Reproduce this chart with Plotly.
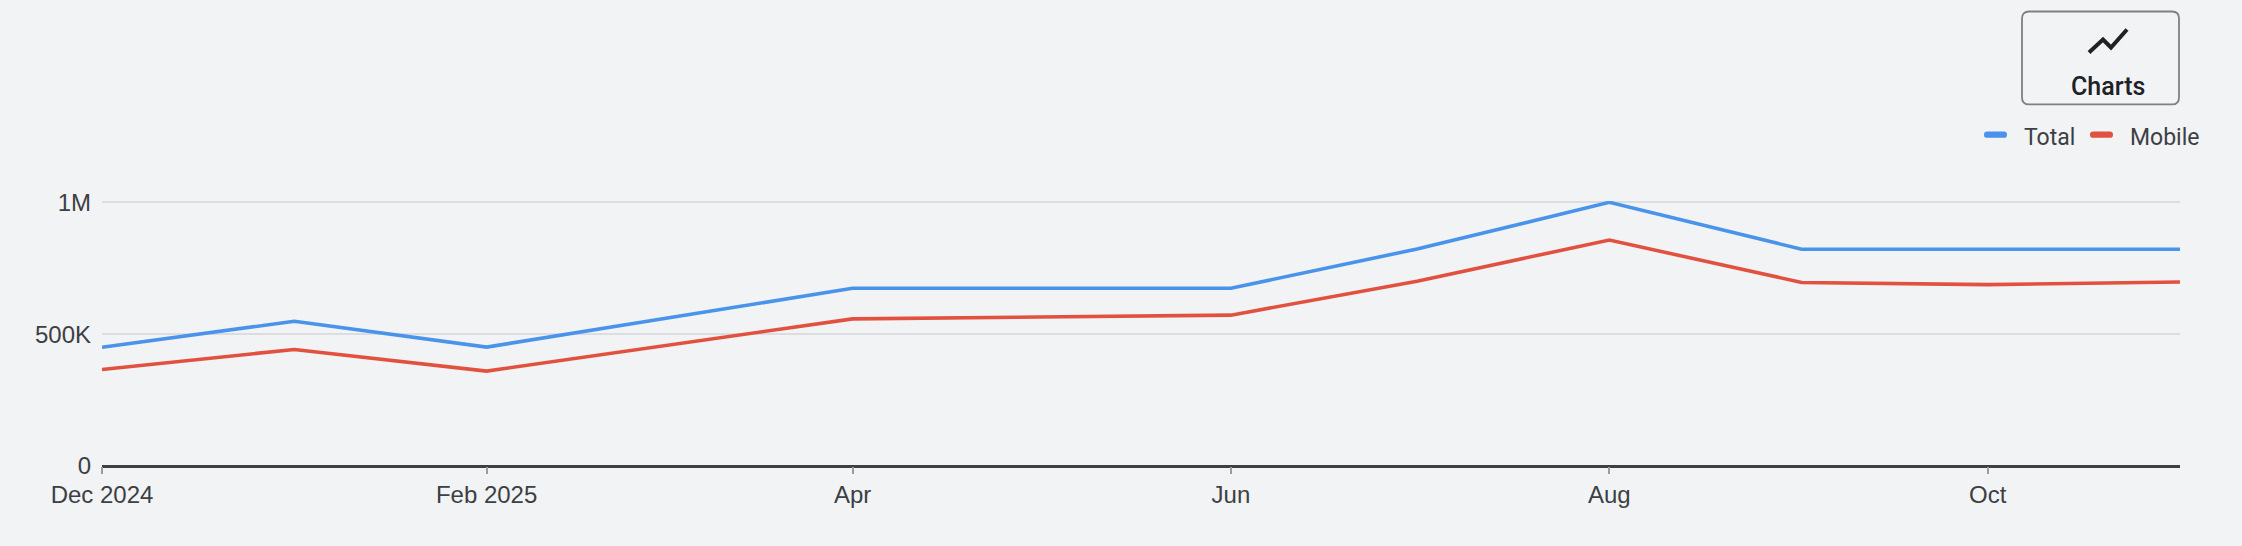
import plotly.graph_objects as go

# === Data (monthly) ===
months = ["2024-12-01", "2025-01-01", "2025-02-01", "2025-03-01", "2025-04-01", "2025-05-01",
          "2025-06-01", "2025-07-01", "2025-08-01", "2025-09-01", "2025-10-01", "2025-11-01"]
total = [450000, 549000, 451000, 557000, 674000, 674000,
         674000, 823000, 1000000, 822000, 822000, 822000]
mobile = [366000, 442000, 360000, 454000, 558000, 565000,
          572000, 701000, 857000, 696000, 688000, 698000]

x_tick_vals = ["2024-12-01", "2025-02-01", "2025-04-01", "2025-06-01", "2025-08-01", "2025-10-01"]
x_tick_text = ["Dec 2024", "Feb 2025", "Apr", "Jun", "Aug", "Oct"]
y_tick_vals = [0, 500000, 1000000]
y_tick_text = ["0", "500K", "1M"]

# === Page geometry ===
W, H = 2242, 546
L, R, T, B = 102, 62, 200.7, 80
PW, PH = W - L - R, H - T - B


def px(p):
    return (p - L) / PW


def py(p):
    return (H - B - p) / PH


def rounded_box(x0, y0, x1, y1, r):
    # rounded rectangle given in page pixels, returned as a paper-space path
    return (f"M {px(x0 + r)} {py(y0)} L {px(x1 - r)} {py(y0)} "
            f"Q {px(x1)} {py(y0)} {px(x1)} {py(y0 + r)} L {px(x1)} {py(y1 - r)} "
            f"Q {px(x1)} {py(y1)} {px(x1 - r)} {py(y1)} L {px(x0 + r)} {py(y1)} "
            f"Q {px(x0)} {py(y1)} {px(x0)} {py(y1 - r)} L {px(x0)} {py(y0 + r)} "
            f"Q {px(x0)} {py(y0)} {px(x0 + r)} {py(y0)} Z")


BG = "#f2f3f5"
TEXT = "#3c3f43"
BLUE, RED = "#4a93ea", "#e2513f"

fig = go.Figure()
fig.add_trace(go.Scatter(x=months, y=total, name="Total", mode="lines",
                         line=dict(color=BLUE, width=3.6)))
fig.add_trace(go.Scatter(x=months, y=mobile, name="Mobile", mode="lines",
                         line=dict(color=RED, width=3.6)))

# === "Charts" button (rounded box + trend icon) ===
icon = [(2089, 52), (2103, 39), (2111, 47), (2127, 29)]
icon_path = "M " + " L ".join(f"{px(a)} {py(b)}" for a, b in icon)

# === Legend drawn by hand (short pill swatches like the original) ===
legend_items = [("Total", BLUE, 1984, 2023), ("Mobile", RED, 2090, 2129)]
legend_shapes, legend_notes = [], []
for label, color, sx, tx in legend_items:
    legend_shapes.append(dict(type="path", xref="paper", yref="paper",
                              path=rounded_box(sx, 131, sx + 23, 137.5, 3.2),
                              fillcolor=color, line=dict(width=0)))
    legend_notes.append(dict(text=label, xref="paper", yref="paper", x=px(tx), y=py(137),
                             xanchor="left", yanchor="middle", showarrow=False, borderpad=0,
                             font=dict(family="Roboto, Arial, sans-serif", size=23, color=TEXT)))

fig.update_layout(
    width=W, height=H,
    margin=dict(l=L, r=R, t=T, b=B),
    paper_bgcolor=BG, plot_bgcolor=BG,
    font=dict(family="Liberation Sans, Arial, sans-serif", size=24, color=TEXT),
    showlegend=False,
    xaxis=dict(range=["2024-12-01", "2025-11-01"], tickvals=x_tick_vals, ticktext=x_tick_text,
               showgrid=False, zeroline=False, showline=False,
               ticks="outside", ticklen=7, tickwidth=1.5, tickcolor="#9a9ca0",
               tickfont=dict(size=24, color=TEXT)),
    yaxis=dict(range=[0, 1005000], tickvals=y_tick_vals, ticktext=y_tick_text,
               showgrid=True, gridcolor="#dcdde0", gridwidth=1.5,
               zeroline=True, zerolinecolor="#3c3f43", zerolinewidth=2.5,
               showline=False, ticks="", ticklabelstandoff=10,
               tickfont=dict(size=24, color=TEXT)),
    shapes=[
        dict(type="path", xref="paper", yref="paper", path=rounded_box(2022, 11, 2179, 104, 7),
             line=dict(color="#7d8186", width=1.8), fillcolor="rgba(0,0,0,0)", layer="above"),
        dict(type="path", xref="paper", yref="paper", path=icon_path,
             line=dict(color="#202124", width=4), layer="above"),
    ] + legend_shapes,
    annotations=[
        dict(text="Charts", xref="paper", yref="paper", x=px(2108), y=py(86),
             xanchor="center", yanchor="middle", showarrow=False,
             font=dict(family="Roboto, Arial, sans-serif", size=25, weight=500, color="#202124")),
    ] + legend_notes,
)

# drop the default page margin so the figure sits at the window origin
fig.write_html("out.html", config={"displayModeBar": False},
               post_script="document.body.style.margin='0';")
